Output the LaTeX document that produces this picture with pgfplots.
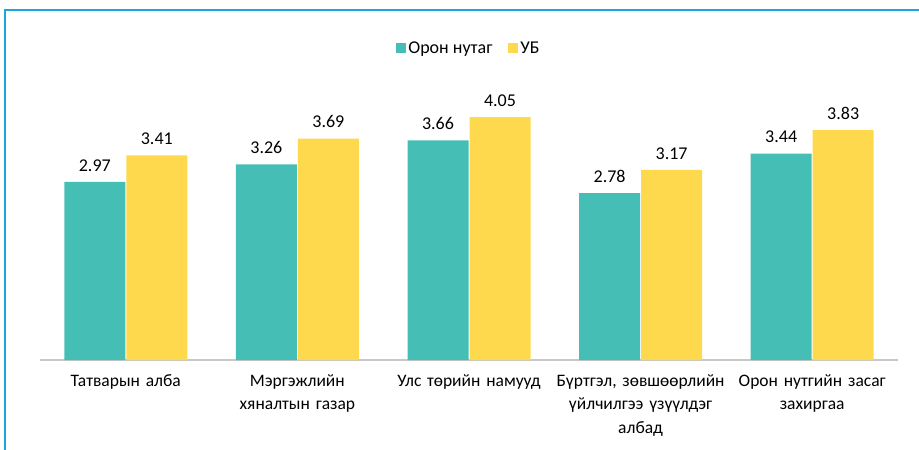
\documentclass[border=0pt]{standalone}
\usepackage{fontspec}
\setmainfont{Carlito}
\usepackage{pgfplots}
\pgfplotsset{compat=1.18}
\definecolor{teal1}{HTML}{45BFB5}
\definecolor{yell1}{HTML}{FFD94D}
\definecolor{frameblue}{HTML}{1AA7E0}
\definecolor{axgray}{HTML}{C8C8C8}
\begin{document}
\begin{tikzpicture}[x=1pt,y=1pt]
\path[use as bounding box] (-40,-90) rectangle (879,360);
\draw[frameblue,line width=1.5pt] (-35,-90) -- (-35,350) -- (879,350);
\begin{axis}[
    at={(0,0)}, anchor=south west,
    scale only axis,
    width=858pt, height=270pt,
    ybar=1pt, bar width=61pt,
    xmin=-0.5, xmax=4.5,
    ymin=0, ymax=4.5,
    xtick=data,
    xticklabels={{Татварын алба},{Мэргэжлийн\\хяналтын газар},{Улс төрийн намууд},{Бүртгэл, зөвшөөрлийн\\үйлчилгээ үзүүлдэг\\албад},{Орон нутгийн засаг\\захиргаа}},
    xticklabel style={font=\fontsize{17.5}{23.5}\selectfont, align=center, text width=172pt, yshift=-11pt},
    major tick length=0pt,
    axis x line*=bottom,
    axis y line=none,
    x axis line style={axgray, line width=2pt, -},
    ytick=\empty,
    nodes near coords,
    every node near coord/.append style={font=\fontsize{18}{20}\selectfont, black, yshift=7pt, /pgf/number format/assume math mode=true, /pgf/number format/fixed, /pgf/number format/fixed zerofill, /pgf/number format/precision=2},
    legend columns=2,
    legend style={draw=none, at={(0.5,1.155)}, anchor=center, font=\fontsize{18}{21}\selectfont, /tikz/every even column/.append style={column sep=14pt}},
    legend image code/.code={\fill[#1] (0pt,-5pt) rectangle (10pt,5pt);},
]
\addplot[fill=teal1, draw=none] coordinates {(0,2.97) (1,3.26) (2,3.66) (3,2.78) (4,3.44)};
\addplot[fill=yell1, draw=none] coordinates {(0,3.41) (1,3.69) (2,4.05) (3,3.17) (4,3.83)};
\legend{Орон нутаг, УБ}
\end{axis}
\end{tikzpicture}
\end{document}
